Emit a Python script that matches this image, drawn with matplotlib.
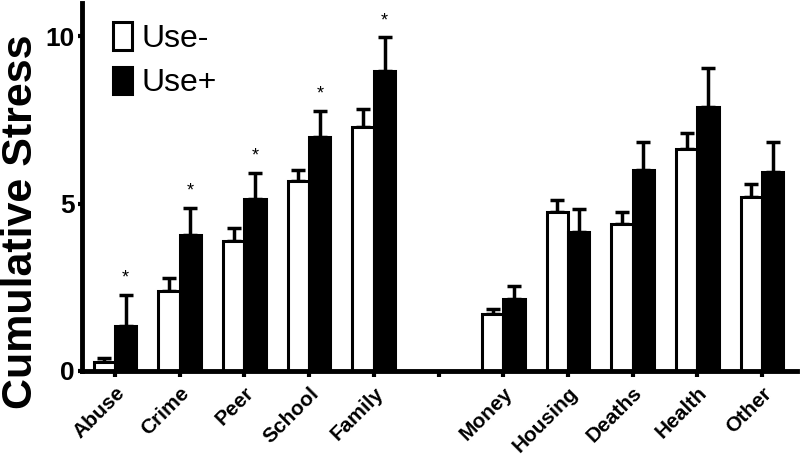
import matplotlib
matplotlib.use('Agg')
import matplotlib.pyplot as plt
import numpy as np

plt.rcParams['font.family'] = ['Liberation Sans', 'DejaVu Sans']

categories = ['Abuse', 'Crime', 'Peer', 'School', 'Family',
              'Money', 'Housing', 'Deaths', 'Health', 'Other']
use_minus = [0.27, 2.40, 3.90, 5.69, 7.28, 1.70, 4.76, 4.40, 6.65, 5.20]
use_minus_err = [0.12, 0.38, 0.38, 0.33, 0.56, 0.15, 0.34, 0.36, 0.47, 0.40]
use_plus = [1.35, 4.07, 5.15, 7.00, 8.98, 2.15, 4.16, 6.02, 7.90, 5.96]
use_plus_err = [0.93, 0.80, 0.78, 0.78, 0.99, 0.39, 0.69, 0.84, 1.17, 0.90]
significant = [True, True, True, True, True, False, False, False, False, False]

# gap between the two groups at position 5
positions = [0, 1, 2, 3, 4, 6, 7, 8, 9, 10]
w = 0.33

fig = plt.figure(figsize=(8, 4.59), dpi=100)
ax = fig.add_axes([82/800, 1-371/459, (797-82)/800, (371-3)/459])

x = np.array(positions, dtype=float)
ax.bar(x - w, use_minus, width=w, align='edge', color='white', edgecolor='black',
       linewidth=2.2, label='Use-', zorder=2)
ax.bar(x, use_plus, width=w, align='edge', color='black', edgecolor='black',
       linewidth=2.2, label='Use+', zorder=2)
ax.errorbar(x - w/2, use_minus, yerr=[np.zeros(10), use_minus_err], fmt='none',
            ecolor='black', elinewidth=2.5, capsize=5, capthick=2.5, zorder=1)
ax.errorbar(x + w/2, use_plus, yerr=[np.zeros(10), use_plus_err], fmt='none',
            ecolor='black', elinewidth=2.5, capsize=5, capthick=2.5, zorder=1)

for xi, v, e, s in zip(x, use_plus, use_plus_err, significant):
    if s:
        ax.text(xi + w/2, v + e + 0.25, '*', ha='center', va='bottom', fontsize=13)

ax.set_xlim(-0.51, 10.54)
ax.set_ylim(0, 11)
ax.set_yticks([0, 5, 10])
ax.set_yticklabels(['0', '5', '10'], fontsize=19, fontweight='bold')
ax.set_xticks(list(range(11)))
ax.set_xticklabels(categories[:5] + [''] + categories[5:], rotation=45, ha='right',
                   rotation_mode='anchor', fontsize=15, fontweight='bold')
ax.tick_params(axis='x', length=4, width=3, pad=5)
ax.tick_params(axis='y', length=3, width=3, pad=2)
ax.set_ylabel('Cumulative Stress', fontsize=31, fontweight='bold')
ax.yaxis.set_label_coords(-0.058, 0.405)

for side in ['top', 'right']:
    ax.spines[side].set_visible(False)
for side in ['left', 'bottom']:
    ax.spines[side].set_linewidth(3.5)

ax.legend(loc='upper left', bbox_to_anchor=(0.0434, 0.948), frameon=False, fontsize=23,
          borderpad=0, borderaxespad=0,
          handlelength=0.6, handleheight=0.95, handletextpad=0.3, labelspacing=0.4)

fig.savefig('out.png', dpi=100)
